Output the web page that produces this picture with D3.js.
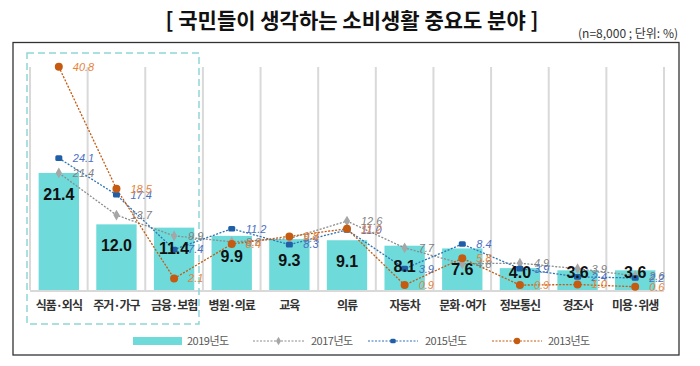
<!DOCTYPE html>
<html><head><meta charset="utf-8">
<script src="https://cdn.jsdelivr.net/npm/d3@7/dist/d3.min.js"></script>
<style>
body{margin:0;background:#fff;}
svg{display:block;font-family:"Noto Sans CJK KR","Noto Sans",sans-serif;}
</style></head>
<body><svg id="c" width="700" height="366"></svg>
<script>
const categories = ["식품·외식","주거·가구","금융·보험","병원·의료","교육","의류","자동차","문화·여가","정보통신","경조사","미용·위생"];
const v2019 = [21.4,12.0,11.4,9.9,9.3,9.1,8.1,7.6,4.0,3.6,3.6];
const v2017 = [21.4,13.7,9.9,8.8,9.4,12.6,7.7,4.8,4.9,3.9,2.6];
const v2015 = [24.1,17.4,7.4,11.2,8.3,11.0,3.9,8.4,3.9,2.4,2.2];
const v2013 = [40.8,18.5,2.1,8.4,9.8,11.2,0.9,5.8,0.9,1.0,0.6];
const legendLabels = ["2019년도","2017년도","2015년도","2013년도"];
const title = "[ 국민들이 생각하는 소비생활 중요도 분야 ]";
const subtitle = "(n=8,000 ; 단위: %)";

const svg = d3.select("#c");
const x = d3.scaleBand().domain(categories).range([30,664]).paddingInner(0.3).paddingOuter(0.15);
const y = d3.scaleLinear().domain([0,45]).range([290,290-45*5.47]);

// title
svg.append("text").attr("x",352).attr("y",28).attr("text-anchor","middle")
  .attr("font-size",21).attr("font-weight","bold").attr("fill","#111").text(title);
svg.append("text").attr("x",678).attr("y",38).attr("text-anchor","end")
  .attr("font-size",12).attr("fill","#333").text(subtitle);

// frame
svg.append("rect").attr("x",13).attr("y",42.5).attr("width",666).attr("height",312.5)
  .attr("fill","none").attr("stroke","#333").attr("stroke-width",1.3);

// vertical grid lines at band boundaries
const bounds = categories.map((c,i)=>x(c)-x.step()*x.paddingInner()/2);
bounds.push(x(categories[categories.length-1])+x.bandwidth()+x.step()*x.paddingInner()/2);
svg.append("g").selectAll("line").data(bounds).join("line")
  .attr("x1",d=>d).attr("x2",d=>d).attr("y1",67).attr("y2",y(0))
  .attr("stroke","#d9d9d9").attr("stroke-width",2);
svg.append("line").attr("x1",bounds[0]).attr("x2",bounds[bounds.length-1])
  .attr("y1",y(0)+1).attr("y2",y(0)+1).attr("stroke","#d9d9d9").attr("stroke-width",2);

// dashed highlight box
svg.append("rect").attr("x",27).attr("y",53).attr("width",172).attr("height",271)
  .attr("fill","none").attr("stroke","#8fd6d6").attr("stroke-width",1.5).attr("stroke-dasharray","7,4");

// bars
const barColor = "#6fdada";
svg.append("g").selectAll("rect").data(v2019).join("rect")
  .attr("x",(d,i)=>x(categories[i])).attr("width",x.bandwidth())
  .attr("y",d=>y(d)).attr("height",d=>y(0)-y(d)).attr("fill",barColor);

// lines
const series = [
  {vals:v2017, line:"#8c8c8c", pt:"#a6a6a6", lab:"#7f7f7f", shape:"diamond"},
  {vals:v2015, line:"#2e75b6", pt:"#1f5fa8", lab:"#4a6fc4", shape:"square"},
  {vals:v2013, line:"#c55a11", pt:"#c55a11", lab:"#e8833a", shape:"circle"}
];
const cx = i => x(categories[i]) + x.bandwidth()/2;
function marker(g, shape, color, k){
  k = k||1;
  if(shape==="diamond") g.append("path").attr("d",d3.symbol(d3.symbolDiamond,34*k*k)()).attr("fill",color);
  else if(shape==="square") g.append("rect").attr("x",-3.5*k).attr("y",-2.8*k).attr("width",7*k).attr("height",5.6*k).attr("rx",1.5).attr("fill",color);
  else g.append("circle").attr("r",4*k).attr("fill",color);
}
series.forEach(s=>{
  const line = d3.line().x((d,i)=>cx(i)).y(d=>y(d));
  svg.append("path").datum(s.vals).attr("d",line).attr("fill","none")
    .attr("stroke",s.line).attr("stroke-width",1.3).attr("stroke-dasharray","2,1.5");
});
series.forEach(s=>{
  s.vals.forEach((v,i)=>{
    const g = svg.append("g").attr("transform",`translate(${cx(i)},${y(v)})`);
    marker(g,s.shape,s.pt);
  });
});
// bar labels
svg.append("g").selectAll("text").data(v2019).join("text")
  .attr("x",(d,i)=>cx(i)).attr("y",d=>Math.min(y(d)+21,272)).attr("dy","0.35em")
  .attr("text-anchor","middle").attr("font-family","Liberation Sans, Arial, sans-serif")
  .attr("font-weight","bold").attr("font-size",16).attr("fill","#111")
  .text(d=>d.toFixed(1));
// series value labels
series.forEach(s=>{
  s.vals.forEach((v,i)=>{
    svg.append("text").attr("x",cx(i)+14).attr("y",y(v)).attr("dy","0.35em")
      .attr("font-family","Liberation Sans, Arial, sans-serif").attr("font-style","italic")
      .attr("font-size",11).attr("fill",s.lab).text(v.toFixed(1));
  });
});

// category labels
svg.append("g").selectAll("text").data(categories).join("text")
  .attr("x",d=>x(d)+x.bandwidth()/2).attr("y",306).attr("dy","0.35em")
  .attr("text-anchor","middle").attr("font-size",12).attr("font-weight","bold")
  .attr("letter-spacing","-1").attr("fill","#333").text(d=>d);

// legend
const ly = 341;
svg.append("rect").attr("x",133).attr("y",ly-4).attr("width",49).attr("height",8).attr("fill",barColor);
const legItems = [
  {x0:253,x1:304,s:series[0]},
  {x0:368,x1:418,s:series[1]},
  {x0:492,x1:542,s:series[2]}
];
legItems.forEach(it=>{
  svg.append("line").attr("x1",it.x0).attr("x2",it.x1).attr("y1",ly).attr("y2",ly)
    .attr("stroke",it.s.line).attr("stroke-width",1.2).attr("stroke-dasharray","2,1.5");
  const g = svg.append("g").attr("transform",`translate(${(it.x0+it.x1)/2},${ly})`);
  marker(g,it.s.shape,it.s.pt,0.8);
});
const legTx = [187,311,425,548];
legendLabels.forEach((t,i)=>{
  svg.append("text").attr("x",legTx[i]).attr("y",ly).attr("dy","0.35em")
    .attr("font-size",11).attr("fill","#595959").attr("letter-spacing","-0.5").text(t);
});
</script></body></html>
